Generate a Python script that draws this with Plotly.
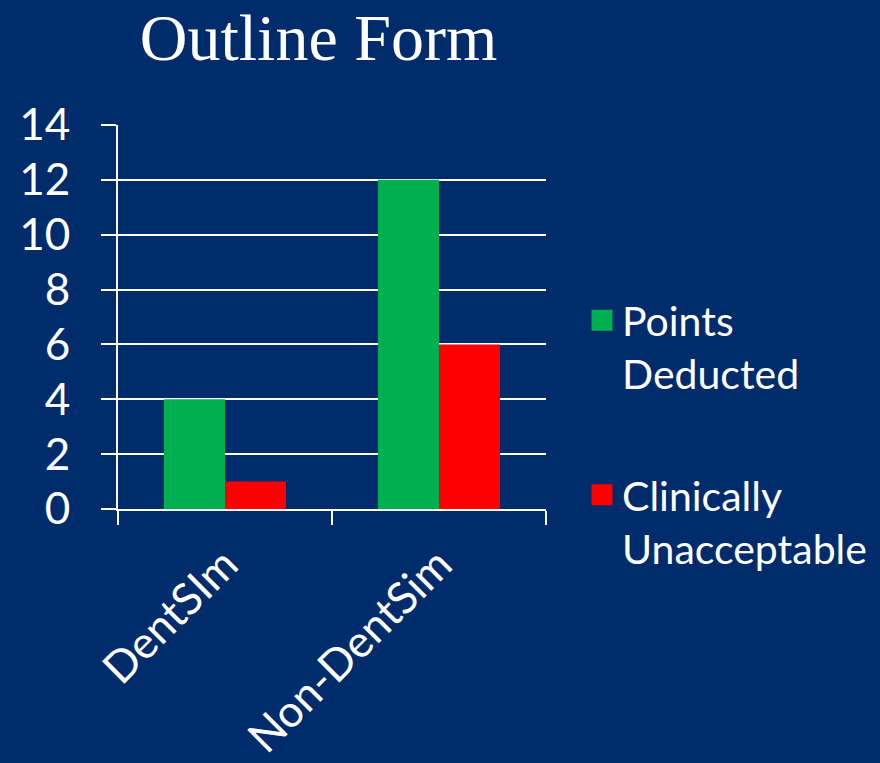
import plotly.graph_objects as go

categories = ["DentSIm", "Non-DentSim"]
points_deducted = [4, 12]
clinically_unacceptable = [1, 6]
y_ticks = [0, 2, 4, 6, 8, 10, 12, 14]

BG = "#002C6C"
GREEN = "#00B050"
RED = "#FF0000"
FONT = "Lato, Open Sans, sans-serif"

fig = go.Figure()
fig.add_trace(go.Bar(x=categories, y=points_deducted, name="Points<br>Deducted",
                     marker=dict(color=GREEN, line=dict(width=0)), showlegend=False))
fig.add_trace(go.Bar(x=categories, y=clinically_unacceptable, name="Clinically<br>Unacceptable",
                     marker=dict(color=RED, line=dict(width=0)), showlegend=False))
# legend entries
fig.add_trace(go.Scatter(x=[None], y=[None], mode="markers", name="Points<br>Deducted",
                         legendgroup="a",
                         marker=dict(symbol="square", size=16, color=GREEN, line=dict(color=GREEN, width=5))))
fig.add_trace(go.Scatter(x=[None], y=[None], mode="markers", name="Clinically<br>Unacceptable",
                         legendgroup="b",
                         marker=dict(symbol="square", size=16, color=RED, line=dict(color=RED, width=5))))

fig.update_layout(
    width=880, height=763,
    paper_bgcolor=BG, plot_bgcolor=BG,
    margin=dict(l=118, r=334, t=125, b=254, autoexpand=False),
    barmode="group", bargap=0.43, bargroupgap=0,
    title=dict(text="Outline Form", font=dict(family="Liberation Serif, Times New Roman, serif", size=66, color="white"),
               x=318.5/880, xref="container", xanchor="center", y=1-37/763, yref="container", yanchor="middle"),
    font=dict(family=FONT, color="white", size=41),
    legend=dict(xref="container", yref="container", x=582/880, y=1-287/763, xanchor="left", yanchor="top",
                traceorder="grouped", tracegroupgap=65, valign="top",
                font=dict(family=FONT, size=41, color="white"), bgcolor="rgba(0,0,0,0)"),
    xaxis=dict(type="category", tickson="boundaries", ticks="outside", ticklen=14, tickwidth=2, tickcolor="white",
               showline=True, linecolor="white", linewidth=2, showgrid=False, tickangle=-45, automargin=False,
               tickfont=dict(family=FONT, size=44, color="white"), ticklabelstandoff=10),
    yaxis=dict(range=[0, 14], tickvals=y_ticks, ticks="outside", ticklen=15, tickwidth=2, tickcolor="white",
               showline=True, linecolor="white", linewidth=2, showgrid=True, gridcolor="white", gridwidth=2,
               automargin=False,
               zeroline=False, tickfont=dict(family=FONT, size=44, color="white"), ticklabelstandoff=22),
)

fig.write_html("out.html", config={"displayModeBar": False},
               post_script="document.body.style.margin='0';document.body.style.overflow='hidden';")
